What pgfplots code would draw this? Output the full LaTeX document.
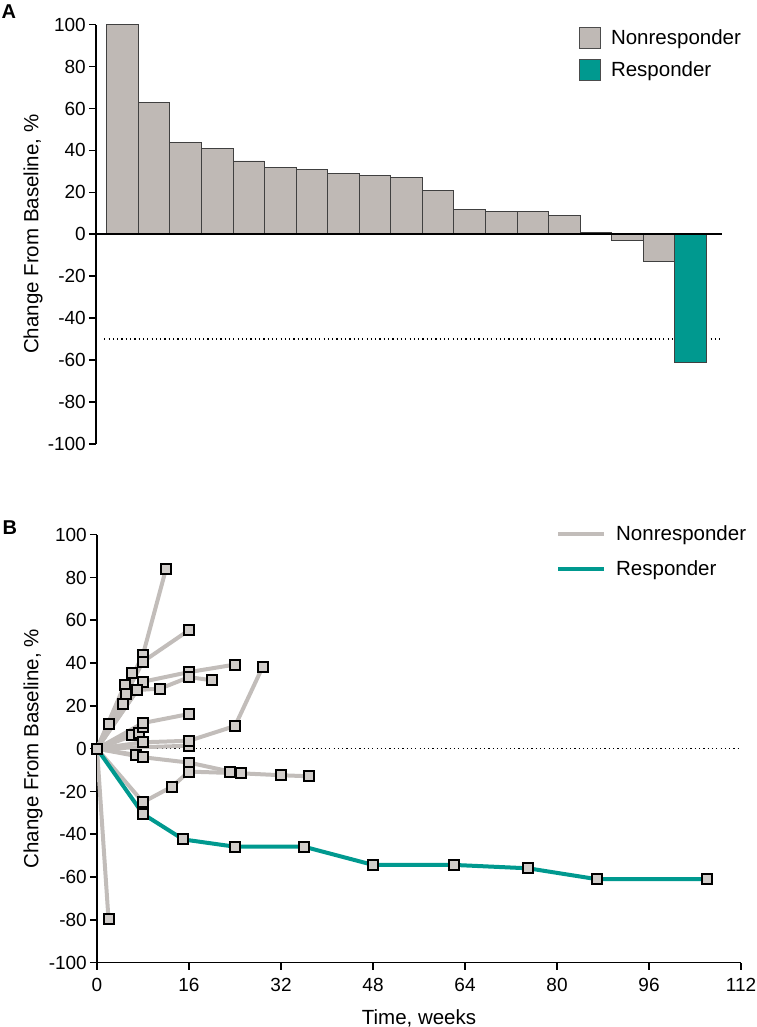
\documentclass[border=0pt]{standalone}
\usepackage{pgfplots}
\pgfplotsset{compat=1.18}
\usepackage{fontspec}
\setmainfont{Liberation Sans}
\definecolor{bargray}{RGB}{191,185,181}
\definecolor{linegray}{RGB}{194,189,186}
\definecolor{markgray}{RGB}{208,204,201}
\definecolor{tealc}{RGB}{0,153,143}
\newcommand\fsA{\fontsize{20.5}{24}\selectfont}
\newcommand\fsT{\fontsize{19}{22}\selectfont}
\newcommand\fsL{\fontsize{20}{24}\selectfont\bfseries}
\pgfplotsset{
  common/.style={
    scale only axis,
    anchor=south west,
    /pgf/number format/assume math mode=true,
    tick label style={font=\fsT},
    label style={font=\fsA},
    axis line style={line width=1.6pt, black},
    major tick style={line width=1.6pt, black},
    tick align=outside,
    major tick length=7pt,
    ymin=-100, ymax=100,
    ytick={-100,-80,...,100},
    yticklabel style={inner sep=0pt, xshift=-3pt},
    legend cell align=left,
  },
  nr/.style={color=linegray, line width=4pt, mark=square*, mark size=5pt,
    mark options={fill=markgray, draw=black, line width=2pt, solid}, forget plot},
}
\begin{document}
\begin{tikzpicture}
\path[use as bounding box] (0,0) rectangle (756pt,1027pt);
\node[anchor=base west, font=\fsL, inner sep=0pt] at (1.5pt,1008.7pt) {A};
\node[anchor=base west, font=\fsL, inner sep=0pt] at (2.5pt,492pt) {B};
% ---------------- Panel A
\begin{axis}[common,
  at={(96pt,583.1pt)}, width=626pt, height=419.2pt,
  axis y line*=left, axis x line=none,
  xmin=0.16, xmax=20,
  ylabel={Change From Baseline, \%},
  ylabel style={at={(axis description cs:-0.1006,0.5)}, anchor=center},
  legend image code/.code={\draw[#1] (0pt,-10.5pt) rectangle (21pt,10.5pt);},
  legend style={at={(rel axis cs:0.7716,0.995)}, anchor=north west, draw=none, fill=none,
    inner sep=0pt, row sep=10pt, font=\fsA, nodes={inner sep=0pt},
    /tikz/every odd column/.append style={column sep=10pt}},
]
\addlegendimage{fill=bargray, draw=black!70, line width=0.8pt}
\addlegendentry{Nonresponder}
\addlegendimage{fill=tealc, draw=black!70, line width=0.8pt}
\addlegendentry{Responder}
\addplot[black, line width=1.2pt, dash pattern=on 1.2pt off 3.1pt, forget plot]
  coordinates {(0.42,-50) (20,-50)};
\addplot[ybar, bar width=1, bar shift=0pt, fill=bargray, draw=black!75, line width=0.7pt, forget plot]
  coordinates {(1,100) (2,63) (3,44) (4,41) (5,35) (6,32) (7,31) (8,29) (9,28)
  (10,27) (11,21) (12,12) (13,11) (14,11) (15,9) (16,1) (17,-3) (18,-13)};
\addplot[ybar, bar width=1, bar shift=0pt, fill=tealc, draw=black!75, line width=0.7pt, forget plot]
  coordinates {(19,-61)};
\addplot[black, line width=2pt, forget plot] coordinates {(0.16,0) (20,0)};
\end{axis}
% ---------------- Panel B
\begin{axis}[common,
  at={(97pt,64.3pt)}, width=644pt, height=428pt,
  axis lines*=left,
  xmin=0, xmax=112,
  xtick={0,16,...,112},
  xticklabel style={inner sep=0pt, yshift=-8pt},
  ylabel={Change From Baseline, \%},
  ylabel style={at={(axis description cs:-0.0994,0.5)}, anchor=center},
  xlabel={Time, weeks},
  xlabel style={at={(axis description cs:0.5,-0.1439)}, anchor=base},
  legend image code/.code={\draw[#1] (0pt,0pt) -- (46pt,0pt);},
  legend style={at={(rel axis cs:0.7127,1.022)}, anchor=north west, draw=none, fill=none,
    inner sep=0pt, row sep=19pt, font=\fsA, nodes={inner sep=0pt},
    /tikz/every odd column/.append style={column sep=10pt}},
]
\addlegendimage{linegray, line width=4pt}
\addlegendentry{Nonresponder}
\addlegendimage{tealc, line width=4pt}
\addlegendentry{Responder}
\addplot[black, line width=1.2pt, dash pattern=on 1.2pt off 3.1pt, forget plot]
  coordinates {(0,0) (112,0)};
\addplot[nr] coordinates {(0,0) (2,-79.6)};
\addplot[nr] coordinates {(0,0) (2,11.4)};
\addplot[nr] coordinates {(0,0) (8,44) (12,84)};
\addplot[nr] coordinates {(0,0) (8,40.7) (16,55.4)};
\addplot[nr] coordinates {(0,0) (6,35.5)};
\addplot[nr] coordinates {(0,0) (4.8,29.8)};
\addplot[nr] coordinates {(0,0) (5,25.5)};
\addplot[nr] coordinates {(0,0) (4.5,21)};
\addplot[nr] coordinates {(0,0) (8,31.3) (16,35.8) (24,39.3)};
\addplot[nr] coordinates {(0,0) (7,27.4) (11,28.1) (16,33.4) (20,32)};
\addplot[nr] coordinates {(0,0) (6,6.4)};
\addplot[nr] coordinates {(0,0) (7.3,7.2)};
\addplot[nr] coordinates {(0,0) (8,10)};
\addplot[nr] coordinates {(0,0) (8,12) (16,16.2)};
\addplot[nr] coordinates {(0,0) (16,1.4)};
\addplot[nr] coordinates {(0,0) (8,3) (16,3.7) (24,10.6) (28.8,38.2)};
\addplot[nr] coordinates {(0,0) (6.8,-2.9)};
\addplot[nr] coordinates {(0,0) (8,-4) (16,-6.5) (23.2,-10.7)};
\addplot[nr] coordinates {(0,0) (8,-25) (13,-17.8) (16,-10.7) (25,-11.5) (32,-12.4) (36.9,-12.9)};
\addplot[nr, color=tealc] coordinates {(0,0) (8,-30.5) (15,-42.4) (24,-45.8) (36,-45.8)
  (48,-54.3) (62,-54.3) (75,-55.9) (87,-61) (106,-61)};
\end{axis}
\end{tikzpicture}
\end{document}
